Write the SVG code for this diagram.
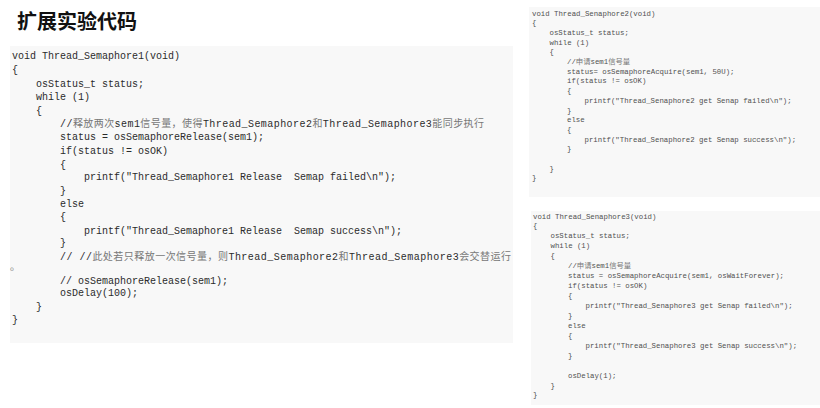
<svg xmlns="http://www.w3.org/2000/svg" width="820" height="408" viewBox="0 0 820 408">
<style>
.bg{fill:#f8f8f8}
.c{font-family:"Liberation Mono","DejaVu Sans Mono",monospace;font-size:10px;fill:#2b2b2b}
.s{font-family:"Liberation Mono","DejaVu Sans Mono",monospace;font-size:7.35px;fill:#505050}
.k{font-family:"Noto Sans CJK SC","Noto Sans CJK JP",sans-serif;fill:#777}
.t{font-family:"Noto Sans CJK SC","Noto Sans CJK JP",sans-serif;font-size:20px;font-weight:bold;fill:#111}
</style>
<rect width="820" height="408" fill="#ffffff"/>
<g id="title"><text class="t" x="17" y="28.5">扩展实验代码</text></g>
<g id="thread1">
<rect class="bg" x="10" y="46" width="503" height="297"/>
<text class="c" x="12" y="58.5">void Thread_Semaphore1(void)</text>
<text class="c" x="12" y="72.8">{</text>
<text class="c" x="36" y="86.8">osStatus_t status;</text>
<text class="c" x="36" y="100.2">while (1)</text>
<text class="c" x="36" y="113.5">{</text>
<text class="c" x="60" y="126.8" textLength="424" lengthAdjust="spacing">//<tspan class="k">释放两次</tspan>sem1<tspan class="k">信号量，使得</tspan>Thread_Semaphore2<tspan class="k">和</tspan>Thread_Semaphore3<tspan class="k">能同步执行</tspan></text>
<text class="c" x="60" y="140.2">status = osSemaphoreRelease(sem1);</text>
<text class="c" x="60" y="153.5">if(status != osOK)</text>
<text class="c" x="60" y="167.5">{</text>
<text class="c" x="84" y="180.2" xml:space="preserve">printf("Thread_Semaphore1 Release  Semap failed\n");</text>
<text class="c" x="60" y="194.2">}</text>
<text class="c" x="60" y="206.5">else</text>
<text class="c" x="60" y="220.2">{</text>
<text class="c" x="84" y="233.5" xml:space="preserve">printf("Thread_Semaphore1 Release  Semap success\n");</text>
<text class="c" x="60" y="246.2">}</text>
<text class="c" x="60" y="259.5" textLength="451" lengthAdjust="spacing">// //<tspan class="k">此处若只释放一次信号量，则</tspan>Thread_Semaphore2<tspan class="k">和</tspan>Thread_Semaphore3<tspan class="k">会交替运行</tspan></text>
<text class="c k" x="10" y="270" style="font-size:10px">。</text>
<text class="c" x="60" y="283.5">// osSemaphoreRelease(sem1);</text>
<text class="c" x="60" y="296.2">osDelay(100);</text>
<text class="c" x="36" y="310.2">}</text>
<text class="c" x="12" y="322.5">}</text>
</g>
<g id="thread2">
<rect class="bg" x="529" y="7" width="291" height="190"/>
<text class="s" x="532" y="15.5">void Thread_Senaphore2(void)</text>
<text class="s" x="532" y="25.2">{</text>
<text class="s" x="549.5" y="34.9">osStatus_t status;</text>
<text class="s" x="549.5" y="44.6">while (1)</text>
<text class="s" x="549.5" y="54.3">{</text>
<text class="s" x="567" y="64">//<tspan class="k">申请</tspan>sem1<tspan class="k">信号量</tspan></text>
<text class="s" x="567" y="73.7">status= osSemaphoreAcquire(sem1, 50U);</text>
<text class="s" x="567" y="83.4">if(status != osOK)</text>
<text class="s" x="567" y="93.1">{</text>
<text class="s" x="584.5" y="102.8">printf("Thread_Senaphore2 get Senap failed\n");</text>
<text class="s" x="567" y="112.5">}</text>
<text class="s" x="567" y="122.2">else</text>
<text class="s" x="567" y="131.9">{</text>
<text class="s" x="584.5" y="141.6">printf("Thread_Senaphore2 get Senap success\n");</text>
<text class="s" x="567" y="151.3">}</text>
<text class="s" x="549.5" y="170.7">}</text>
<text class="s" x="532" y="180.4">}</text>
</g>
<g id="thread3">
<rect class="bg" x="531" y="211" width="289" height="194"/>
<text class="s" x="533" y="218.5">void Thread_Senaphore3(void)</text>
<text class="s" x="533" y="228.4">{</text>
<text class="s" x="550.5" y="238.4">osStatus_t status;</text>
<text class="s" x="550.5" y="248.3">while (1)</text>
<text class="s" x="550.5" y="258.3">{</text>
<text class="s" x="568" y="268.2">//<tspan class="k">申请</tspan>sem1<tspan class="k">信号量</tspan></text>
<text class="s" x="568" y="278.1">status = osSemaphoreAcquire(sem1, osWaitForever);</text>
<text class="s" x="568" y="288.1">if(status != osOK)</text>
<text class="s" x="568" y="298">{</text>
<text class="s" x="585.5" y="308">printf("Thread_Senaphore3 get Senap failed\n");</text>
<text class="s" x="568" y="317.9">}</text>
<text class="s" x="568" y="327.8">else</text>
<text class="s" x="568" y="337.8">{</text>
<text class="s" x="585.5" y="347.7">printf("Thread_Senaphore3 get Senap success\n");</text>
<text class="s" x="568" y="357.6">}</text>
<text class="s" x="568" y="377.5">osDelay(1);</text>
<text class="s" x="550.5" y="387.5">}</text>
<text class="s" x="533" y="397.4">}</text>
</g>
</svg>
